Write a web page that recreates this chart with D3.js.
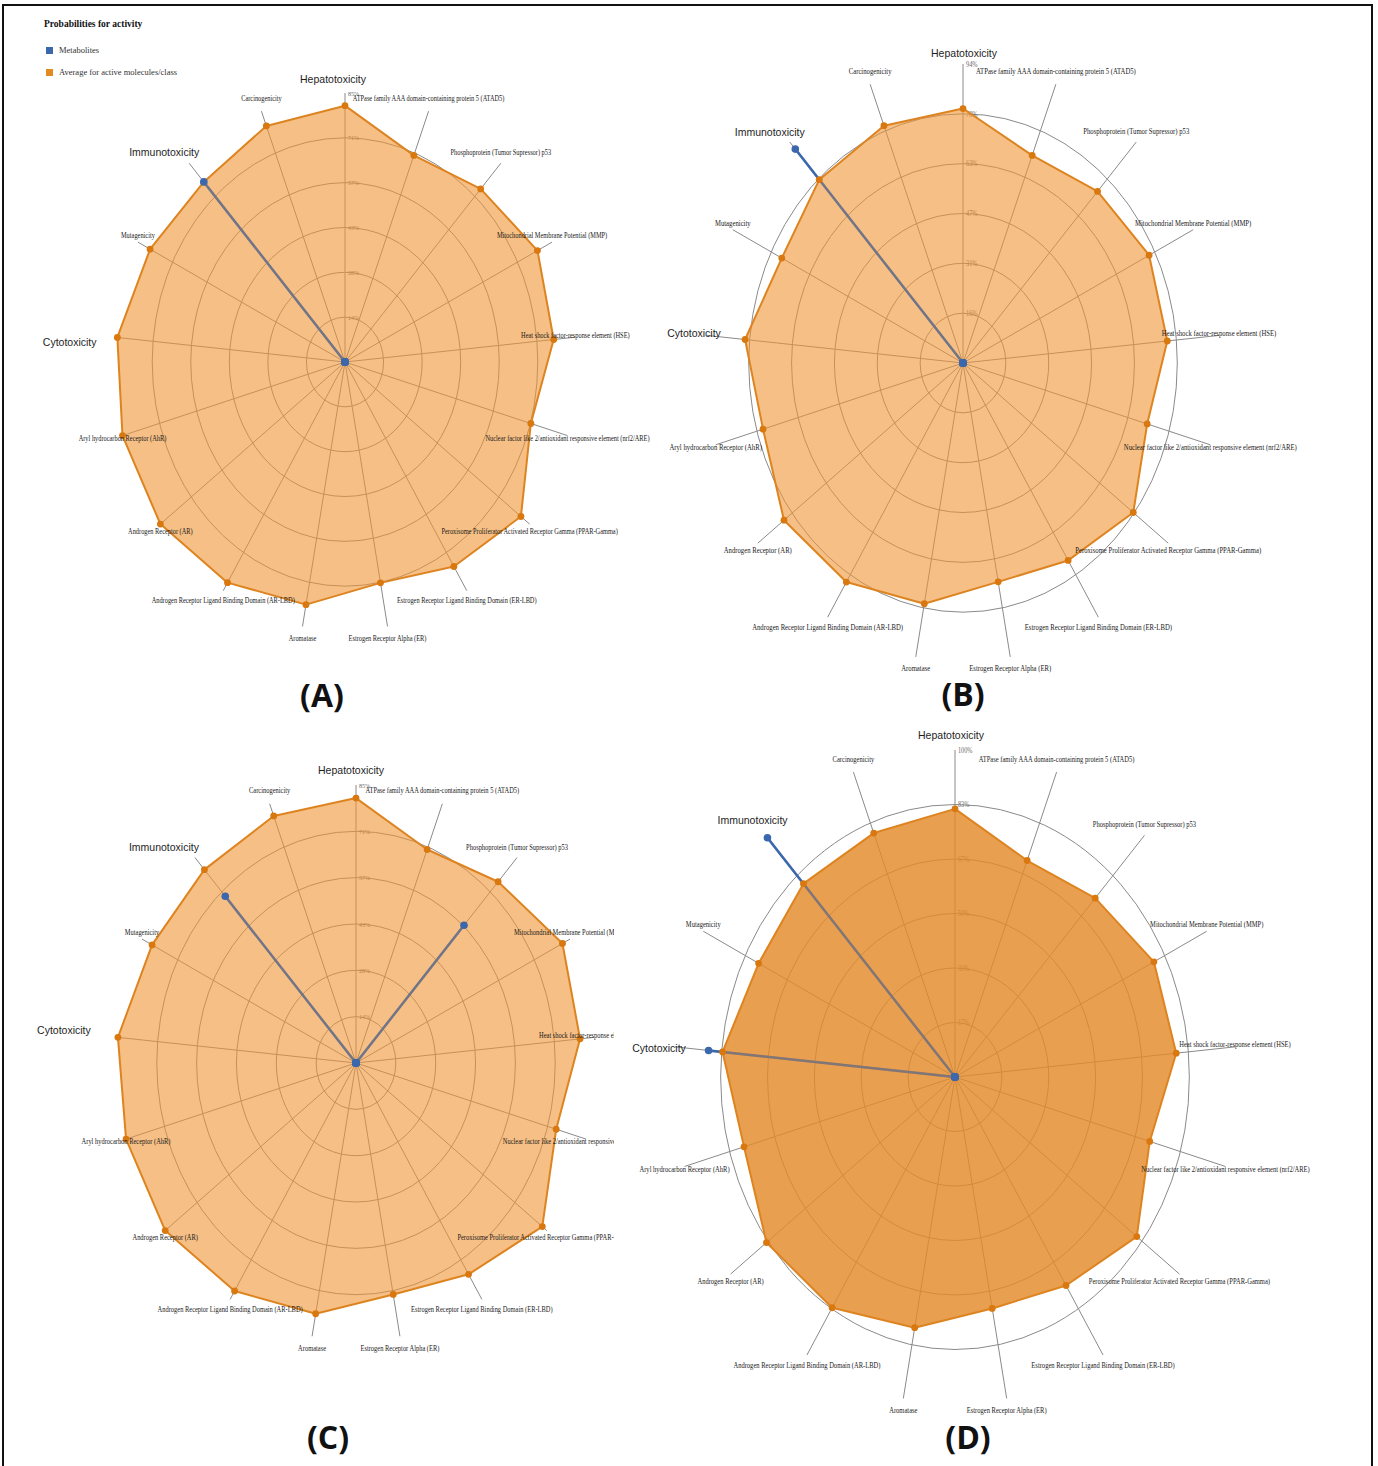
<!DOCTYPE html>
<html>
<head>
<meta charset="utf-8">
<script src="https://cdn.jsdelivr.net/npm/d3@7"></script>
<style>
  body { margin: 0; background: #fff; }
  svg { display: block; }
</style>
</head>
<body>
<svg id="fig" width="1378" height="1466"></svg>
<script>
// Toxicity end-points, clockwise from the top of each radar
const endpoints = [
  "Hepatotoxicity",
  "ATPase family AAA domain-containing protein 5 (ATAD5)",
  "Phosphoprotein (Tumor Supressor) p53",
  "Mitochondrial Membrane Potential (MMP)",
  "Heat shock factor-response element (HSE)",
  "Nuclear factor like 2/antioxidant responsive element (nrf2/ARE)",
  "Peroxisome Proliferator Activated Receptor Gamma (PPAR-Gamma)",
  "Estrogen Receptor Ligand Binding Domain (ER-LBD)",
  "Estrogen Receptor Alpha (ER)",
  "Aromatase",
  "Androgen Receptor Ligand Binding Domain (AR-LBD)",
  "Androgen Receptor (AR)",
  "Aryl hydrocarbon Receptor (AhR)",
  "Cytotoxicity",
  "Mutagenicity",
  "Immunotoxicity",
  "Carcinogenicity"
];

// Highlighted end-points written in large type over each radar
const callouts = ["Hepatotoxicity", "Immunotoxicity", "Cytotoxicity"];

const seriesNames = ["Metabolites", "Average for active molecules/class"];

// Probability of activity: average for active molecules/class
const averageA = [0.81, 0.70, 0.74, 0.79, 0.77, 0.71, 0.81, 0.76, 0.71, 0.78, 0.82, 0.85, 0.85, 0.84, 0.80, 0.77, 0.80];
const averageB = [0.80, 0.70, 0.73, 0.76, 0.75, 0.70, 0.78, 0.73, 0.70, 0.77, 0.81, 0.82, 0.76, 0.80, 0.74, 0.78, 0.80];
const averageC = [0.81, 0.70, 0.75, 0.82, 0.80, 0.74, 0.83, 0.76, 0.72, 0.78, 0.82, 0.85, 0.85, 0.85, 0.81, 0.80, 0.81];
const averageD = [0.82, 0.71, 0.74, 0.79, 0.79, 0.72, 0.81, 0.75, 0.72, 0.78, 0.83, 0.84, 0.78, 0.83, 0.78, 0.80, 0.80];

// Probability of activity: metabolites
const metabolitesA = [0, 0, 0, 0, 0, 0, 0, 0, 0, 0, 0, 0, 0, 0, 0, 0.77, 0];
const metabolitesB = [0, 0, 0, 0, 0, 0, 0, 0, 0, 0, 0, 0, 0, 0, 0, 0.91, 0];
const metabolitesC = [0, 0, 0.57, 0, 0, 0, 0, 0, 0, 0, 0, 0, 0, 0, 0, 0.69, 0];
const metabolitesD = [0, 0, 0, 0, 0, 0, 0, 0, 0, 0, 0, 0, 0, 0.88, 0, 0.99, 0];

// Radial tick labels (top of the value axis)
const ticksA = ["14%", "28%", "43%", "57%", "71%", "85%"];
const ticksB = ["16%", "31%", "47%", "63%", "78%", "94%"];
const ticksC = ["14%", "28%", "43%", "57%", "71%", "85%"];
const ticksD = ["17%", "33%", "50%", "67%", "83%", "100%"];
const axisMax = [0.85, 0.94, 0.85, 1.00];

const panelLetters = ["(A)", "(B)", "(C)", "(D)"];

// Layout of the four radars
const layout = [
  { cx: 345, cy: 362, R: 269, font: 7.4, letter: [322, 698], clipRight: null,
    nudge: [[-12, -13], [-25, -10], [-45, 6]], lightFill: true },
  { cx: 963, cy: 363, R: 299, font: 7.8, letter: [963, 697], clipRight: null,
    nudge: [[1, -10], [-20, -9], [-13, -1]], lightFill: true },
  { cx: 356, cy: 1063, R: 278, font: 7.5, letter: [328, 1440], clipRight: 614,
    nudge: [[-5, -14], [-31, -9], [-54, -6]], lightFill: true },
  { cx: 955, cy: 1077, R: 327, font: 7.6, letter: [968, 1440], clipRight: null,
    nudge: [[-4, -14], [-13, -14], [-16, 2]], lightFill: false }
];

const averages = [averageA, averageB, averageC, averageD];
const metabolites = [metabolitesA, metabolitesB, metabolitesC, metabolitesD];
const tickSets = [ticksA, ticksB, ticksC, ticksD];

const SX = 0.86;               // horizontal compression of each radar
const BLUE = "#3b67ad";
const ORANGE = "#e48a22";
const GRID = "#8a8a8a";
const svg = d3.select("#fig");
const serif = "'Liberation Serif', 'DejaVu Serif', serif";
const sans = "'Liberation Sans', Arial, sans-serif";

// frame round the figure
svg.append("rect").attr("x", 3).attr("y", 5).attr("width", 1369).attr("height", 1472)
  .attr("fill", "none").attr("stroke", "#111").attr("stroke-width", 2);

const defs = svg.append("defs");

const angle = d3.scaleLinear().domain([0, endpoints.length]).range([0, 2 * Math.PI]);

layout.forEach((L, p) => {
  const g = svg.append("g").attr("transform", `translate(${L.cx},${L.cy})`);
  if (L.clipRight) {
    // the right-hand side of this radar is cut off
    defs.append("clipPath").attr("id", "clip" + p)
      .append("rect").attr("x", -L.cx).attr("y", -L.R - 120)
      .attr("width", L.clipRight).attr("height", 2 * L.R + 240);
    g.attr("clip-path", `url(#clip${p})`);
  }
  const max = axisMax[p];
  const r = d3.scaleLinear().domain([0, max]).range([0, L.R]);
  const pt = (i, v) => [SX * r(v) * Math.sin(angle(i)), -r(v) * Math.cos(angle(i))];
  const ringValues = d3.range(1, 7).map(k => max * k / 6);
  const line = d3.line().curve(d3.curveLinearClosed);

  // concentric grid (outermost ring is not drawn)
  g.selectAll("ellipse.ring").data(ringValues.slice(0, 5)).join("ellipse")
    .attr("class", "ring")
    .attr("rx", d => SX * r(d)).attr("ry", d => r(d))
    .attr("fill", "none").attr("stroke", GRID).attr("stroke-width", 1);

  // spokes
  g.selectAll("line.spoke").data(endpoints).join("line")
    .attr("class", "spoke")
    .attr("x1", 0).attr("y1", 0)
    .attr("x2", (d, i) => pt(i, max)[0]).attr("y2", (d, i) => pt(i, max)[1])
    .attr("stroke", GRID).attr("stroke-width", 1);

  // tick labels along the top axis
  g.selectAll("text.tick").data(tickSets[p]).join("text")
    .attr("class", "tick")
    .attr("transform", (d, k) => `translate(3,${-r(ringValues[k]) + 1}) scale(${SX},1)`)
    .attr("font-family", serif).attr("font-size", L.font - 0.4)
    .attr("fill", "#6a6a6a").attr("dominant-baseline", "middle")
    .text(d => d);

  // metabolites series line (drawn under and, faintly, over the average area)
  const metPath = line(metabolites[p].map((v, i) => pt(i, v)));
  g.append("path")
    .attr("d", metPath)
    .attr("fill", "none").attr("stroke", BLUE).attr("stroke-width", 2.4)
    .attr("stroke-linejoin", "round");

  // average for active molecules/class
  g.append("path")
    .attr("d", line(averages[p].map((v, i) => pt(i, v))))
    .attr("fill", L.lightFill ? "#ee9433" : "#e48a2a")
    .attr("fill-opacity", L.lightFill ? 0.6 : 0.82)
    .attr("stroke", "#dd8420").attr("stroke-width", 2).attr("stroke-linejoin", "round");

  g.append("path")
    .attr("d", metPath)
    .attr("fill", "none").attr("stroke", BLUE).attr("stroke-width", 2.4)
    .attr("stroke-opacity", 0.5).attr("stroke-linejoin", "round");

  g.selectAll("circle.avg").data(averages[p]).join("circle")
    .attr("class", "avg")
    .attr("cx", (d, i) => pt(i, d)[0]).attr("cy", (d, i) => pt(i, d)[1])
    .attr("r", 3.4).attr("fill", "#d9780f");

  g.selectAll("circle.met").data(metabolites[p]).join("circle")
    .attr("class", "met")
    .attr("cx", (d, i) => pt(i, d)[0]).attr("cy", (d, i) => pt(i, d)[1])
    .attr("r", 3.8).attr("fill", BLUE);

  // end-point labels at the end of each spoke (call-outs replace three of them)
  g.selectAll("text.axis").data(endpoints.filter(d => !callouts.includes(d))).join("text")
    .attr("class", "axis")
    .attr("transform", d => {
      const a = angle(endpoints.indexOf(d));
      const x = SX * L.R * Math.sin(a);
      const y = -(L.R + 13) * Math.cos(a);
      return `translate(${x},${y}) scale(${SX},1)`;
    })
    .attr("text-anchor", "middle").attr("dominant-baseline", "middle")
    .attr("font-family", serif).attr("font-size", L.font).attr("fill", "#1a1a1a")
    .text(d => d);

  // large call-out labels
  callouts.forEach((name, c) => {
    const i = endpoints.indexOf(name);
    const base = i === 0 ? [0, -L.R] : pt(i, max);
    g.append("text")
      .attr("x", base[0] + L.nudge[c][0]).attr("y", base[1] + L.nudge[c][1])
      .attr("text-anchor", "middle").attr("dominant-baseline", "middle")
      .attr("font-family", sans).attr("font-size", 10.5).attr("fill", "#1e1e1e")
      .text(name);
  });

  // panel letter
  svg.append("text")
    .attr("x", L.letter[0]).attr("y", L.letter[1])
    .attr("text-anchor", "middle").attr("dominant-baseline", "middle")
    .attr("font-family", "'Open Sans', 'Liberation Sans', sans-serif")
    .attr("font-weight", 700).attr("font-size", 32).attr("fill", "#111")
    .text(panelLetters[p]);
});

// legend
const legend = svg.append("g").attr("transform", "translate(44,0)");
legend.append("text").attr("x", 0).attr("y", 27)
  .attr("font-family", serif).attr("font-weight", 700).attr("font-size", 9.5)
  .attr("fill", "#111").text("Probabilities for activity");
[BLUE, ORANGE].forEach((col, k) => {
  const y = 51 + k * 22;
  legend.append("rect").attr("x", 2).attr("y", y - 4).attr("width", 7).attr("height", 7).attr("fill", col);
  legend.append("text").attr("x", 15).attr("y", y).attr("dominant-baseline", "middle")
    .attr("font-family", serif).attr("font-size", 8.5).attr("fill", "#333")
    .text(seriesNames[k]);
});
</script>
</body>
</html>
